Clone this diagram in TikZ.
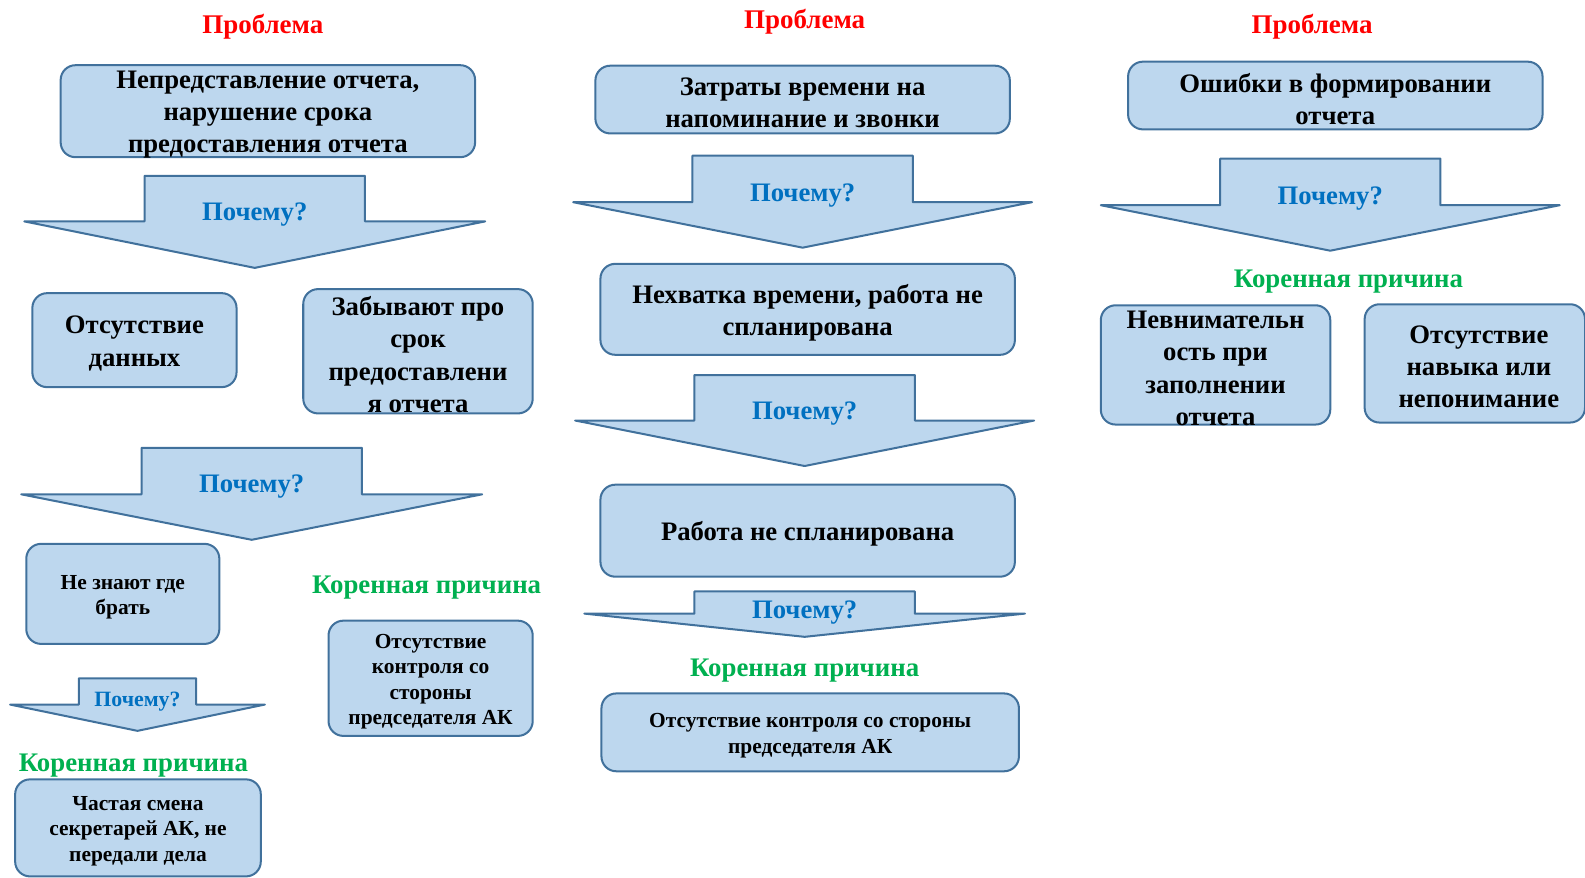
\documentclass[tikz,border=0pt]{standalone}
\usepackage{fontspec}
\setmainfont{Liberation Serif}
\definecolor{fl}{HTML}{BDD7EE}
\definecolor{bd}{HTML}{41719C}
\definecolor{rd}{HTML}{FF0000}
\definecolor{bl}{HTML}{0070C0}
\definecolor{gr}{HTML}{00B050}
\tikzset{
  box/.style={draw=bd, fill=fl, line width=1.5pt, rounded corners=11pt, inner sep=0pt},
  bigtext/.style={align=center, inner sep=0pt, font=\bfseries\fontsize{19.8}{24}\selectfont},
  smalltext/.style={align=center, inner sep=0pt, font=\bfseries\fontsize{15.9}{18.75}\selectfont},
  arrowshape/.style={draw=bd, fill=fl, line width=1.5pt, line join=round},
  why/.style={text=bl, font=\bfseries\fontsize{19.8}{22}\selectfont, inner sep=0pt},
  smallwhy/.style={text=bl, font=\bfseries\fontsize{16.2}{18}\selectfont, inner sep=0pt},
  problem/.style={text=rd, font=\bfseries\fontsize{20}{22}\selectfont, inner sep=0pt},
  root/.style={text=gr, font=\bfseries\fontsize{19.9}{22}\selectfont, inner sep=0pt}
}
% #1 name, #2 cx, #3 stem half width, #4 wing half width, #5 top, #6 wing y, #7 tip y, #8 label y, #9 label style
\newcommand\whyarrow[9]{%
  \draw[arrowshape] ({#2-#3},#5) -- ({#2+#3},#5) -- ({#2+#3},#6) -- ({#2+#4},#6) -- (#2,#7)
    -- ({#2-#4},#6) -- ({#2-#3},#6) -- cycle;
  \node[#9] (#1) at (#2,{#8+3}) {Почему?};
}
% #1 name, #2 text style, #3 cx, #4 cy, #5 width, #6 height, #7 text
\newcommand\bx[7]{%
  \node[box, minimum width=#5, minimum height=#6] (#1) at (#3,#4) {};
  \node[#2] (#1t) at ([yshift=-2.5pt]#1.center) {#7};
}
\begin{document}
\begin{tikzpicture}[x=0.75pt,y=-0.75pt]
\useasboundingbox (0,0) rectangle (1568,868);

% Column 1
\node[problem] (p1) at (260,26) {Проблема};
\bx{a}{bigtext}{265}{110}{307.5pt}{68.25pt}{Непредставление отчета,\\нарушение срока\\предоставления отчета}
\whyarrow{w1}{252}{109}{228}{174}{219}{265}{209}{why}
\bx{b}{bigtext}{133}{336.5}{151.5pt}{69.75pt}{Отсутствие\\данных}
\bx{c}{bigtext}{413.5}{347.5}{170.25pt}{92.25pt}{Забывают про\\срок\\предоставлени\\я отчета}
\whyarrow{w2}{249}{109}{228}{443}{489}{534}{478}{why}
\bx{d}{smalltext}{121.5}{587.5}{143.25pt}{74.25pt}{Не знают где\\брать}
\node[root] (r1) at (422,581) {Коренная причина};
\bx{e}{smalltext}{426}{671}{151.5pt}{85.5pt}{Отсутствие\\контроля со\\стороны\\председателя АК}
\whyarrow{w3}{136}{58}{126}{671}{697}{723}{691}{smallwhy}
\node[root] (r2) at (132,757) {Коренная причина};
\bx{f}{smalltext}{136.5}{819}{182.25pt}{72pt}{Частая смена\\секретарей АК, не\\передали дела}

% Column 2
\node[problem] (p2) at (796,21) {Проблема};
\bx{g}{bigtext}{794}{98.5}{307.5pt}{50.25pt}{Затраты времени на\\напоминание и звонки}
\whyarrow{w4}{794}{109}{227}{154}{200}{245}{190}{why}
\bx{h}{bigtext}{799}{306}{307.5pt}{67.5pt}{Нехватка времени, работа не\\спланирована}
\whyarrow{w5}{796}{109}{227}{371}{416}{461}{406}{why}
\bx{i}{bigtext}{799}{525}{307.5pt}{68.25pt}{Работа не спланирована}
\whyarrow{w6}{796}{109}{218}{585}{607}{630}{603}{why}
\node[root] (r3) at (796,663) {Коренная причина};
\bx{j}{smalltext}{801.5}{724.5}{309.75pt}{57.75pt}{Отсутствие контроля со стороны\\председателя АК}

% Column 3
\node[problem] (p3) at (1298,26) {Проблема};
\bx{k}{bigtext}{1321}{94.5}{307.5pt}{50.25pt}{Ошибки в формировании\\отчета}
\whyarrow{w7}{1316}{109}{227}{157}{203}{248}{193}{why}
\node[root] (r4) at (1334,279) {Коренная причина};
\bx{l}{bigtext}{1202.5}{361}{170.25pt}{88.5pt}{Невнимательн\\ость при\\заполнении\\отчета}
\node[box, minimum width=163.5pt, minimum height=87.75pt] (m) at (1459,359.5) {};
\node[bigtext] (mt) at ([xshift=3pt,yshift=-2.5pt]m.center) {Отсутствие\\навыка или\\непонимание};
\end{tikzpicture}
\end{document}
